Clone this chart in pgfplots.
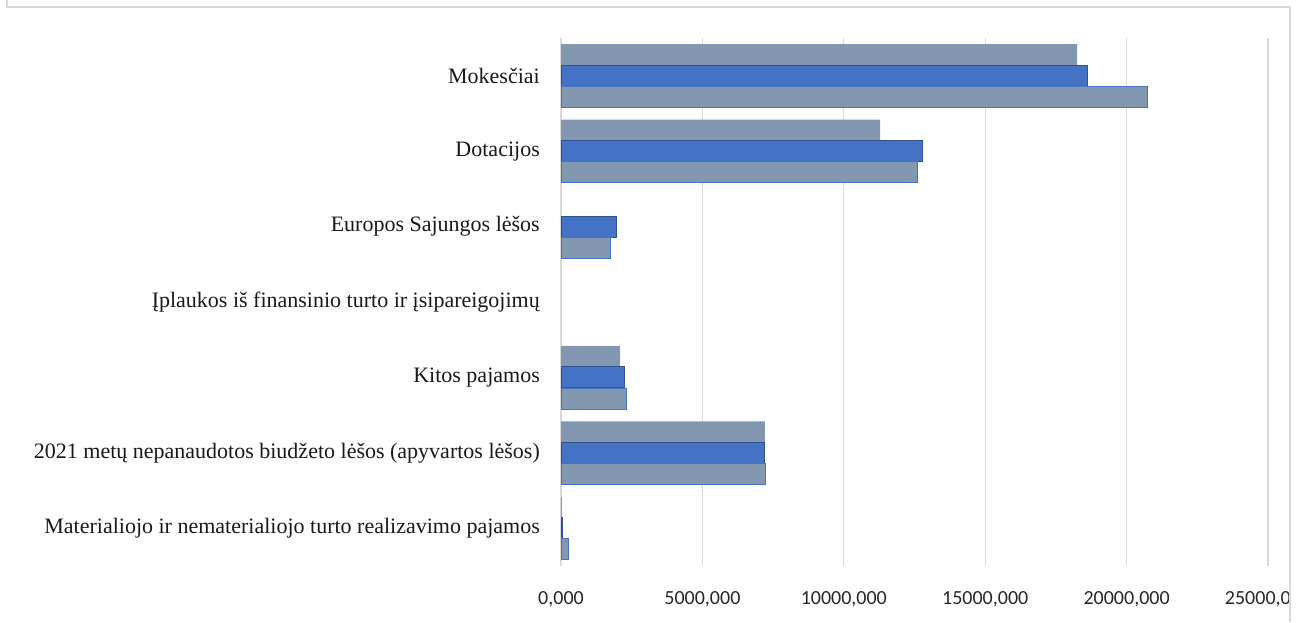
\documentclass[border=0pt]{standalone}
\usepackage{pgfplots}
\pgfplotsset{compat=1.18}
\usepackage{fontspec}
\setmainfont{Liberation Serif}
\newfontfamily\tickfont{Carlito}

\definecolor{slate}{HTML}{8497B0}
\definecolor{midblue}{HTML}{4472C4}
\definecolor{darkblue}{HTML}{2F528F}
\definecolor{gridgray}{HTML}{D9D9D9}

\begin{document}
\begin{tikzpicture}
\useasboundingbox (0pt,0pt) rectangle (1308pt,622pt);
\begin{axis}[
    at={(561pt,56pt)}, anchor=south west,
    width=707pt, height=528pt, scale only axis,
    xbar, bar width=21pt,
    xmin=0, xmax=25000, ymin=-0.5, ymax=6.5,
    xtick={0,5000,10000,15000,20000,25000},
    scaled x ticks=false,
    ytick={0,1,2,3,4,5,6},
    % y index: 6 = top category ... 0 = bottom category
    yticklabels={
        Materialiojo ir nematerialiojo turto realizavimo pajamos,
        2021 metų nepanaudotos biudžeto lėšos (apyvartos lėšos),
        Kitos pajamos,
        Įplaukos iš finansinio turto ir įsipareigojimų,
        Europos Sajungos lėšos,
        Dotacijos,
        Mokesčiai},
    axis line style={draw=none},
    major tick length=0pt,
    xmajorgrids, grid style={color=gridgray, line width=1.3pt},
    /pgf/number format/fixed,
    /pgf/number format/fixed zerofill,
    /pgf/number format/precision=3,
    /pgf/number format/use comma,
    /pgf/number format/1000 sep={},
    /pgf/number format/assume math mode=true,
    xticklabel style={font=\tickfont\fontsize{20}{20}\selectfont, anchor=north, yshift=-22pt, text=black!85},
    yticklabel style={font=\fontsize{22}{22}\selectfont, anchor=east, inner sep=0pt, xshift=-21pt, text=black!90},
]
% top bar of each group
\addplot[fill=slate, draw=none, bar shift=21pt]
    coordinates {(18250,6) (11280,5) (2090,2) (7210,1) (35,0)};
% middle bar
\addplot[fill=midblue, draw=darkblue, line width=1pt, bar shift=0pt]
    coordinates {(18600,6) (12770,5) (1950,4) (2230,2) (7210,1) (70,0)};
% bottom bar
\addplot[fill=slate, draw=midblue, line width=0.8pt, bar shift=-21pt]
    coordinates {(20720,6) (12620,5) (1735,4) (2300,2) (7210,1) (250,0)};
\end{axis}
\fill[white] (1291pt,0pt) rectangle (1340pt,622pt);
\draw[gridgray, line width=1.2pt] (7pt,622pt) -- (7pt,615pt) -- (1290pt,615pt) -- (1290pt,0pt);
\end{tikzpicture}
\end{document}
